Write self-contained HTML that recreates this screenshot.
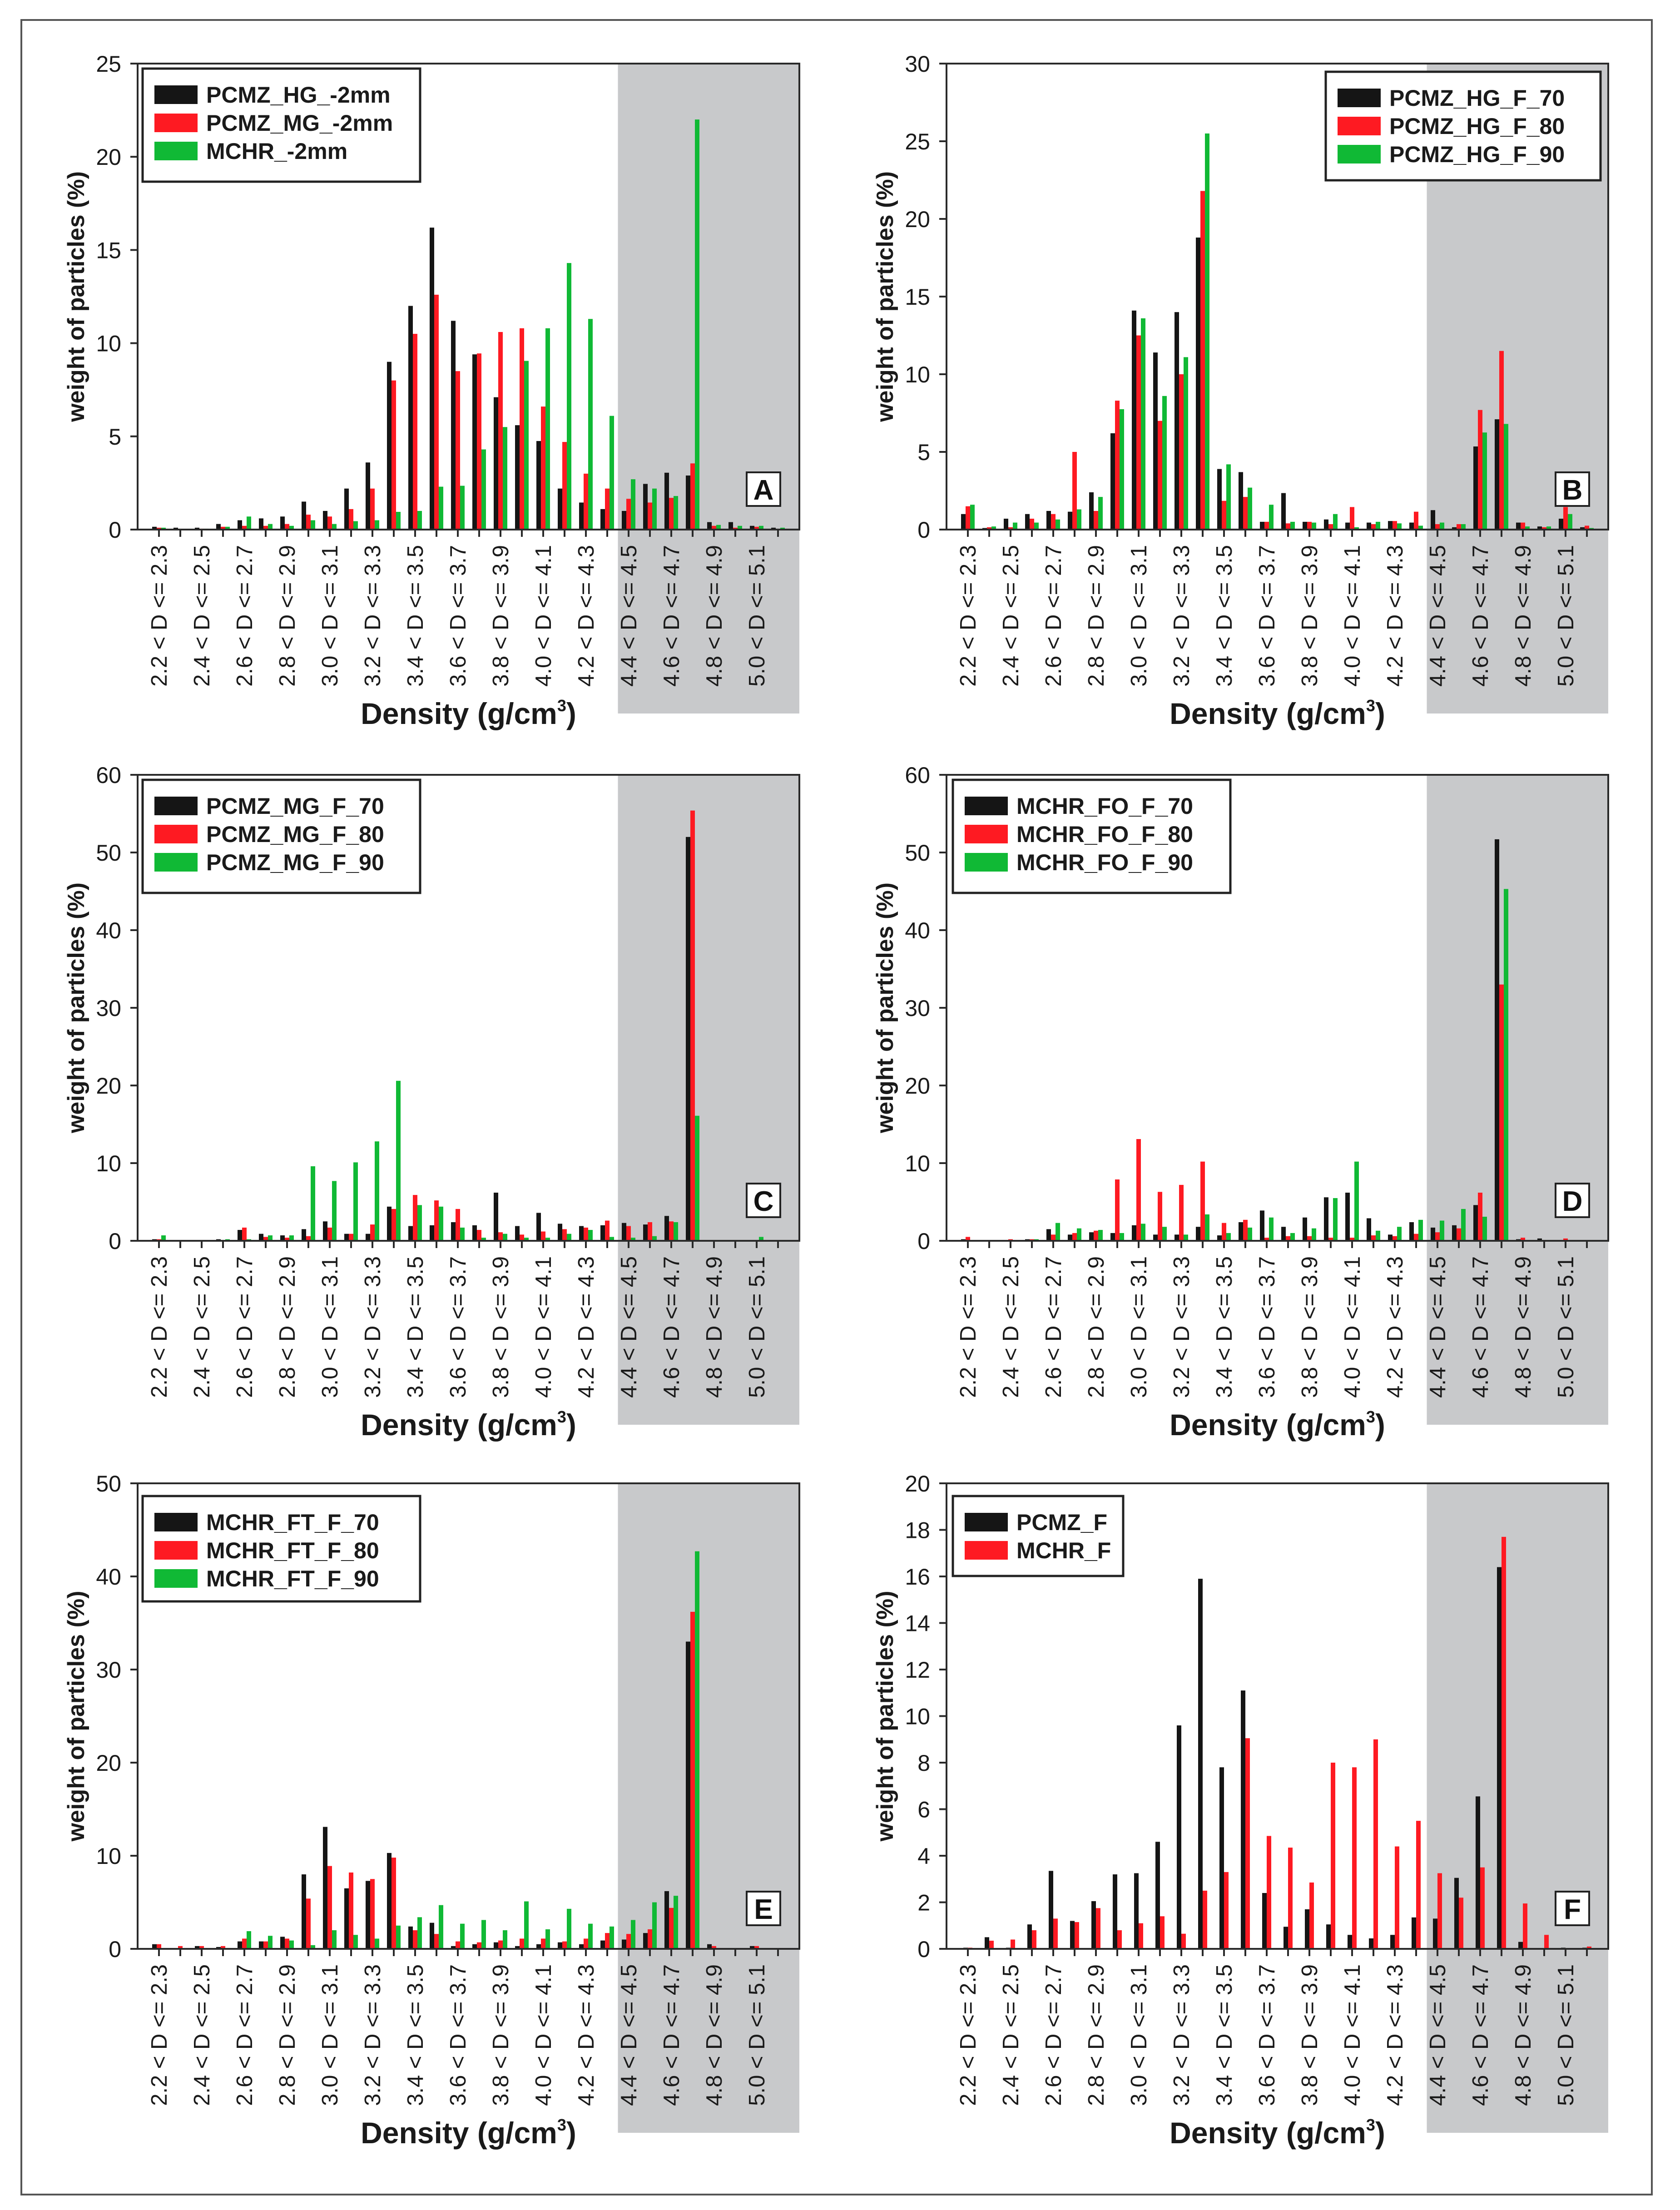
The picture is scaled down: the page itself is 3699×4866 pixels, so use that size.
<!DOCTYPE html>
<html><head><meta charset="utf-8"><style>
html,body{margin:0;padding:0;background:#fff;}
svg{display:block;font-family:"Liberation Sans",Arial,sans-serif;}
</style></head><body>
<svg id="fig" width="3699" height="4866" viewBox="0 0 3699 4866" xmlns="http://www.w3.org/2000/svg">
<rect x="47" y="44" width="3590" height="4788" fill="#fff" stroke="#555" stroke-width="4"/>
</svg>
<script>
// ---------- data ----------
const categories = ["2.2 < D <= 2.3","2.3 < D <= 2.4","2.4 < D <= 2.5","2.5 < D <= 2.6","2.6 < D <= 2.7","2.7 < D <= 2.8","2.8 < D <= 2.9","2.9 < D <= 3.0","3.0 < D <= 3.1","3.1 < D <= 3.2","3.2 < D <= 3.3","3.3 < D <= 3.4","3.4 < D <= 3.5","3.5 < D <= 3.6","3.6 < D <= 3.7","3.7 < D <= 3.8","3.8 < D <= 3.9","3.9 < D <= 4.0","4.0 < D <= 4.1","4.1 < D <= 4.2","4.2 < D <= 4.3","4.3 < D <= 4.4","4.4 < D <= 4.5","4.5 < D <= 4.6","4.6 < D <= 4.7","4.7 < D <= 4.8","4.8 < D <= 4.9","4.9 < D <= 5.0","5.0 < D <= 5.1","5.1 < D <= 5.2"];
const labelEvery = 2;

const namesA = ["PCMZ_HG_-2mm","PCMZ_MG_-2mm","MCHR_-2mm"];
const ticksA = [0,5,10,15,20,25];
const A_black = [0.15,0.1,0.1,0.3,0.5,0.6,0.7,1.5,1.0,2.2,3.6,9.0,12.0,16.2,11.2,9.4,7.1,5.6,4.75,2.2,1.45,1.1,1.0,2.45,3.05,2.9,0.4,0.4,0.2,0.1];
const A_red   = [0.1,0,0.05,0.15,0.2,0.2,0.3,0.8,0.7,1.1,2.2,8.0,10.5,12.6,8.5,9.45,10.6,10.8,6.6,4.7,3.0,2.2,1.65,1.45,1.7,3.55,0.2,0.1,0.15,0];
const A_green = [0.1,0,0.05,0.15,0.7,0.3,0.2,0.5,0.3,0.45,0.5,0.95,1.0,2.3,2.35,4.3,5.5,9.05,10.8,14.3,11.3,6.1,2.7,2.2,1.8,22.0,0.25,0.2,0.2,0.1];

const namesB = ["PCMZ_HG_F_70","PCMZ_HG_F_80","PCMZ_HG_F_90"];
const ticksB = [0,5,10,15,20,25,30];
const B_black = [1.0,0.1,0.7,1.0,1.2,1.15,2.4,6.2,14.1,11.4,14.0,18.8,3.9,3.7,0.5,2.35,0.5,0.65,0.45,0.45,0.55,0.45,1.25,0.15,5.35,7.1,0.45,0.2,0.7,0.15];
const B_red   = [1.5,0.15,0.15,0.7,1.0,5.0,1.2,8.3,12.5,7.0,10.0,21.8,1.85,2.1,0.5,0.4,0.5,0.35,1.45,0.35,0.55,1.15,0.35,0.35,7.7,11.5,0.45,0.15,1.45,0.25];
const B_green = [1.6,0.2,0.45,0.45,0.65,1.3,2.1,7.75,13.6,8.6,11.1,25.5,4.2,2.7,1.6,0.5,0.45,1.0,0.15,0.5,0.4,0.25,0.45,0.35,6.25,6.8,0.2,0.2,1.0,0.1];

const namesC = ["PCMZ_MG_F_70","PCMZ_MG_F_80","PCMZ_MG_F_90"];
const ticksC = [0,10,20,30,40,50,60];
const C_black = [0.2,0,0.1,0.2,1.4,0.9,0.7,1.5,2.5,0.9,0.9,4.4,1.9,2.0,2.4,2.0,6.2,1.9,3.6,2.2,1.9,2.0,2.3,2.1,3.2,52.0,0,0,0,0];
const C_red   = [0.2,0,0,0.1,1.7,0.5,0.4,0.6,1.7,0.9,2.1,4.1,5.9,5.2,4.1,1.4,1.1,0.8,1.2,1.5,1.7,2.6,1.9,2.4,2.5,55.4,0.1,0,0,0];
const C_green = [0.7,0,0,0.2,0.2,0.7,0.7,9.6,7.7,10.1,12.8,20.6,4.6,4.4,1.7,0.4,0.9,0.4,0.4,0.9,1.4,0.5,0.4,0.6,2.4,16.1,0,0.1,0.5,0.1];

const namesD = ["MCHR_FO_F_70","MCHR_FO_F_80","MCHR_FO_F_90"];
const ticksD = [0,10,20,30,40,50,60];
const D_black = [0.2,0,0,0.2,1.5,0.8,1.1,1.0,2.0,0.8,0.8,1.8,0.7,2.4,3.9,1.8,3.0,5.6,6.2,2.9,0.8,2.4,1.7,2.0,4.6,51.7,0.2,0.3,0.1,0];
const D_red   = [0.5,0,0.2,0.2,0.8,1.0,1.3,7.9,13.1,6.3,7.2,10.2,2.3,2.7,0.4,0.6,0.6,0.4,0.4,0.7,0.6,0.9,1.1,1.6,6.2,33.0,0.4,0,0.3,0];
const D_green = [0.1,0,0,0.2,2.3,1.6,1.4,1.0,2.2,1.8,0.8,3.4,1.0,1.7,3.0,1.0,1.6,5.5,10.2,1.3,1.8,2.7,2.6,4.1,3.1,45.3,0,0.1,0,0];

const namesE = ["MCHR_FT_F_70","MCHR_FT_F_80","MCHR_FT_F_90"];
const ticksE = [0,10,20,30,40,50];
const E_black = [0.5,0,0.3,0.2,0.8,0.8,1.3,8.0,13.1,6.5,7.3,10.3,2.4,2.8,0.3,0.5,0.7,0.3,0.5,0.7,0.5,0.9,1.0,1.7,6.2,33.0,0.5,0,0.3,0];
const E_red   = [0.5,0.3,0.3,0.3,1.1,0.8,1.1,5.4,8.9,8.2,7.5,9.8,2.0,1.6,0.8,0.7,0.9,1.1,1.1,0.8,1.1,1.7,1.6,2.1,4.4,36.2,0.3,0,0.3,0];
const E_green = [0,0,0,0.1,1.9,1.4,0.9,0.4,2.0,1.5,1.1,2.5,3.4,4.7,2.7,3.1,2.0,5.1,2.1,4.3,2.7,2.4,3.1,5.0,5.7,42.7,0,0,0,0];

const namesF = ["PCMZ_F","MCHR_F"];
const ticksF = [0,2,4,6,8,10,12,14,16,18,20];
const F_black = [0.05,0.5,0.05,1.05,3.35,1.2,2.05,3.2,3.25,4.6,9.6,15.9,7.8,11.1,2.4,0.95,1.7,1.05,0.6,0.45,0.6,1.35,1.3,3.05,6.55,16.4,0.3,0,0.05,0.05];
const F_red   = [0.05,0.35,0.4,0.8,1.3,1.15,1.75,0.8,1.1,1.4,0.65,2.5,3.3,9.05,4.85,4.35,2.85,8.0,7.8,9.0,4.4,5.5,3.25,2.2,3.5,17.7,1.95,0.6,0,0.1];

// ---------- drawing ----------
const NS = "http://www.w3.org/2000/svg";
const svg = document.getElementById('fig');
const colors = ["#151515","#fe1a22","#10b935"];
function mk(tag, attrs, parent){ const e=document.createElementNS(NS,tag); for(const k in attrs) e.setAttribute(k,attrs[k]); (parent||svg).appendChild(e); return e; }

const panels = [
 {id:"a", letter:"A", L:303,  R:1760, T:140,  B:1166, ticks:ticksA, series:[A_black,A_red,A_green], names:namesA, leg:{x:314,y:151,w:611,h:249}},
 {id:"b", letter:"B", L:2084, R:3541, T:140,  B:1166, ticks:ticksB, series:[B_black,B_red,B_green], names:namesB, leg:{x:2919,y:158,w:605,h:239}},
 {id:"c", letter:"C", L:303,  R:1760, T:1706, B:2732, ticks:ticksC, series:[C_black,C_red,C_green], names:namesC, leg:{x:314,y:1717,w:611,h:249}},
 {id:"d", letter:"D", L:2084, R:3541, T:1706, B:2732, ticks:ticksD, series:[D_black,D_red,D_green], names:namesD, leg:{x:2098,y:1717,w:611,h:249}},
 {id:"e", letter:"E", L:303,  R:1760, T:3266, B:4291, ticks:ticksE, series:[E_black,E_red,E_green], names:namesE, leg:{x:314,y:3294,w:611,h:232}},
 {id:"f", letter:"F", L:2084, R:3541, T:3266, B:4291, ticks:ticksF, series:[F_black,F_red], names:namesF, leg:{x:2098,y:3294,w:375,h:176}}
];

panels.forEach(p=>{
  const g = mk('g',{});
  
  
  const n = categories.length + 1; // slots
  const w = (p.R-p.L)/n;
  const ymax = p.ticks[p.ticks.length-1];
  const xc = i => p.L + (i+1)*w;
  const y = v => p.B - (v/ymax)*(p.B-p.T);

  // gray highlight
  const gray = mk('rect',{x:p.L+22.5*w, y:p.T, width:p.R-(p.L+22.5*w), height:(p.B+405)-p.T, fill:"#c8c9cb"}, g);
  
  

  // bars
  const bw = 10, ns = p.series.length;
  p.series.forEach((arr,s)=>{
    const sg = mk('g',{fill:colors[s]}, g);
    
    
    arr.forEach((v,i)=>{
      if(v<=0) return;
      const x0 = xc(i) - ns*bw/2 + s*bw;
      const r = mk('rect',{x:x0, y:y(v), width:bw, height:p.B-y(v)}, sg);
      
      
    });
  });

  // frame
  const fr = mk('rect',{x:p.L, y:p.T, width:p.R-p.L, height:p.B-p.T, fill:"none", stroke:"#2a2a2a", "stroke-width":4}, g);
  
  

  // y ticks
  p.ticks.forEach(t=>{
    mk('line',{x1:p.L-16, x2:p.L, y1:y(t), y2:y(t), stroke:"#2a2a2a","stroke-width":4}, g);
    const tx = mk('text',{x:p.L-36, y:y(t)+18, "text-anchor":"end", "font-size":50, fill:"#1a1a1a"}, g);
    tx.textContent = t;
    
    
  });
  // x ticks and labels
  categories.forEach((c,i)=>{
    mk('line',{x1:xc(i), x2:xc(i), y1:p.B, y2:p.B+16, stroke:"#2a2a2a","stroke-width":4}, g);
    if(i%labelEvery===0){
      const tx = mk('text',{transform:`translate(${xc(i)+17},${p.B+34}) rotate(-90)`, "text-anchor":"end", "font-size":49, fill:"#1a1a1a"}, g);
      tx.textContent = c;
      
      
    }
  });
  // axis titles
  const yt = mk('text',{transform:`translate(${p.L-118},${(p.T+p.B)/2}) rotate(-90)`, "text-anchor":"middle", "font-size":52, "font-weight":"bold", fill:"#1a1a1a"}, g);
  yt.textContent = "weight of particles (%)";
  
  
  const xt = mk('text',{x:(p.L+p.R)/2, y:p.B+428, "text-anchor":"middle", "font-size":66, "font-weight":"bold", fill:"#1a1a1a"}, g);
  
  
  xt.appendChild(document.createTextNode("Density (g/cm"));
  const sup = mk('tspan',{"font-size":36, dy:-28}, xt); sup.textContent="3";
  const cl = mk('tspan',{dy:28}, xt); cl.textContent=")";

  // legend
  const lg = mk('g',{}, g);
  
  
  mk('rect',{x:p.leg.x, y:p.leg.y, width:p.leg.w, height:p.leg.h, fill:"#fff", stroke:"#222","stroke-width":5}, lg);
  p.names.forEach((nm,s)=>{
    const ry = p.leg.y + 37 + s*62;
    const sw = mk('rect',{x:p.leg.x+26, y:ry, width:95, height:41, fill:colors[s]}, lg);
    
    
    const t = mk('text',{x:p.leg.x+140, y:ry+38, "font-size":50, "font-weight":"bold", fill:"#1a1a1a"}, lg);
    t.textContent = nm;
    
    
  });

  // panel letter
  const lb = mk('rect',{x:p.R-116, y:p.B-126, width:74, height:74, fill:"#fff", stroke:"#222","stroke-width":4}, g);
  
  
  const lt = mk('text',{x:p.R-79, y:p.B-66, "text-anchor":"middle", "font-size":62, "font-weight":"bold", fill:"#111"}, g);
  lt.textContent = p.letter;
  
  
});
</script>
</body></html>
